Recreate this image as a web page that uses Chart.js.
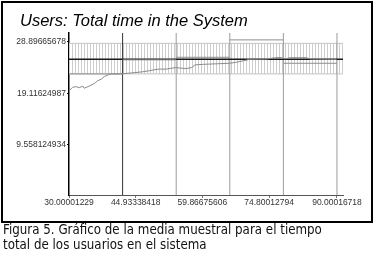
<!DOCTYPE html>
<html>
<head>
<meta charset="utf-8">
<script src="https://cdn.jsdelivr.net/npm/chart.js@4/dist/chart.umd.min.js"></script>
<style>
  html, body { margin: 0; padding: 0; background: #fff; width: 378px; height: 256px; overflow: hidden; }
  #frame { position: absolute; left: 1px; top: 1px; width: 372px; height: 222px; box-sizing: border-box; border: 2px solid #000; }
  #wrap { position: absolute; left: 0; top: 0; width: 378px; height: 222px; }
  #title { position: absolute; left: 20px; top: 11px; font-family: "Liberation Sans", Arial, sans-serif; font-style: italic; font-size: 16.5px; color: #000; white-space: nowrap; }
  #caption { position: absolute; left: 3px; top: 222px; font-family: "DejaVu Sans", sans-serif; font-size: 13.5px; line-height: 15px; color: #111; white-space: nowrap; transform: scaleX(0.88); transform-origin: left top; }
</style>
</head>
<body>
<div id="frame"></div>
<div id="wrap"><canvas id="c" width="378" height="222"></canvas></div>
<div id="title">Users: Total time in the System</div>
<div id="caption">Figura 5. Gráfico de la media muestral para el tiempo<br>total de los usuarios en el sistema</div>
<script>
// ---- data ----
const xTicks = [30.00001229, 44.93338418, 59.86675606, 74.80012794, 90.00016718];
const xTickLabels = ['30.00001229', '44.93338418', '59.86675606', '74.80012794', '90.00016718'];
const yTicks = [9.558124934, 19.11624987, 28.89665678];
const yTickLabels = ['9.558124934', '19.11624987', '28.89665678'];
const xRange = [30, 91.35];
const yRange = [0, 30.5];

// running sample mean
const curveX = [30.2, 30.8, 31.6, 32.3, 33.1, 33.4, 34.5, 35.7, 36.4, 37.2, 37.9, 38.7, 39.4, 41.6, 44.3, 46.5, 48.0, 49.9, 51.7, 54.0, 54.8, 56.3, 57.5, 58.2, 60.1, 63.1, 66.0, 67.5, 68.7, 70.5, 74.3, 75.7, 77.2, 78.4, 79.5, 83.2, 84.0, 89.9];
const curveY = [19.77, 20.28, 20.4, 20.2, 20.5, 20.1, 20.5, 21.0, 21.5, 21.8, 22.3, 22.6, 22.8, 22.8, 23.0, 23.2, 23.4, 23.7, 23.7, 24.0, 23.9, 23.8, 24.0, 24.5, 24.6, 24.7, 24.8, 25.0, 25.2, 25.55, 25.6, 25.8, 25.9, 25.65, 25.85, 25.85, 25.6, 25.55];

const overallMean = 25.55;
const bandLow = 22.8;
const bandHigh = 28.55;
const batchEdges = [30, 42, 54, 66, 78, 90];
const batchMeans = [22.8, 25.45, 25.93, 29.2, 24.8];

// ---- build ----
const curveData = curveX.map((x, i) => ({ x: x, y: curveY[i] }));
const batchData = [];
for (let i = 0; i < batchMeans.length; i++) {
  batchData.push({ x: batchEdges[i], y: batchMeans[i] });
  batchData.push({ x: batchEdges[i + 1], y: batchMeans[i] });
  batchData.push({ x: batchEdges[i + 1], y: null });
}
const firstEdge = [{ x: batchEdges[1], y: yRange[0] }, { x: batchEdges[1], y: yRange[1] }];
const otherEdges = [];
for (let i = 2; i < batchEdges.length; i++) {
  otherEdges.push({ x: batchEdges[i], y: yRange[0] }, { x: batchEdges[i], y: yRange[1] }, { x: batchEdges[i], y: null });
}

const pc = document.createElement('canvas');
pc.width = 3; pc.height = 1;
const pctx = pc.getContext('2d');
pctx.fillStyle = '#cdcdcd';
pctx.fillRect(0, 0, 1, 1);
const hatch = pctx.createPattern(pc, 'repeat');

const line = (data, color, width, extra) => Object.assign({
  data: data, showLine: true, borderColor: color, borderWidth: width,
  pointRadius: 0, pointHoverRadius: 0, tension: 0, spanGaps: false, fill: false
}, extra || {});

new Chart(document.getElementById('c'), {
  type: 'scatter',
  data: {
    datasets: [
      line(curveData, '#8a8a8a', 1),
      line(batchData, '#8e8e8e', 1),
      line([{ x: xRange[0], y: overallMean }, { x: xRange[1], y: overallMean }], '#1a1a1a', 1.5),
      line(firstEdge, '#333333', 1),
      line(otherEdges, '#9c9c9c', 1),
      line([{ x: xRange[0], y: bandHigh }, { x: xRange[1], y: bandHigh }], '#c4c4c4', 1, { fill: '+1', backgroundColor: hatch }),
      line([{ x: xRange[0], y: bandLow }, { x: xRange[1], y: bandLow }], '#c4c4c4', 1)
    ]
  },
  options: {
    responsive: false,
    animation: false,
    devicePixelRatio: 1,
    layout: { padding: { left: 0, top: 33, right: 35, bottom: 0 } },
    plugins: { legend: { display: false }, tooltip: { enabled: false }, title: { display: false } },
    scales: {
      x: {
        type: 'linear', min: xRange[0], max: xRange[1],
        afterBuildTicks: s => { s.ticks = xTicks.map(v => ({ value: v })); },
        afterFit: s => { s.height = 27; },
        ticks: { autoSkip: false, maxRotation: 0, padding: 0, color: '#333', font: { family: 'Liberation Sans', size: 8.5 },
                 callback: (v, i) => xTickLabels[i] },
        grid: { drawOnChartArea: false, drawTicks: true, tickLength: 3, color: '#777' },
        border: { color: '#555', width: 1 }
      },
      y: {
        type: 'linear', min: yRange[0], max: yRange[1],
        afterBuildTicks: s => { s.ticks = yTicks.map(v => ({ value: v })); },
        afterFit: s => { s.width = 69; },
        ticks: { autoSkip: false, padding: 1, color: '#333', font: { family: 'Liberation Sans', size: 8.5 },
                 callback: (v, i) => yTickLabels[i] },
        grid: { drawOnChartArea: false, drawTicks: true, tickLength: 2, color: '#000' },
        border: { color: '#000', width: 1.5 }
      }
    }
  }
});
</script>
</body>
</html>
